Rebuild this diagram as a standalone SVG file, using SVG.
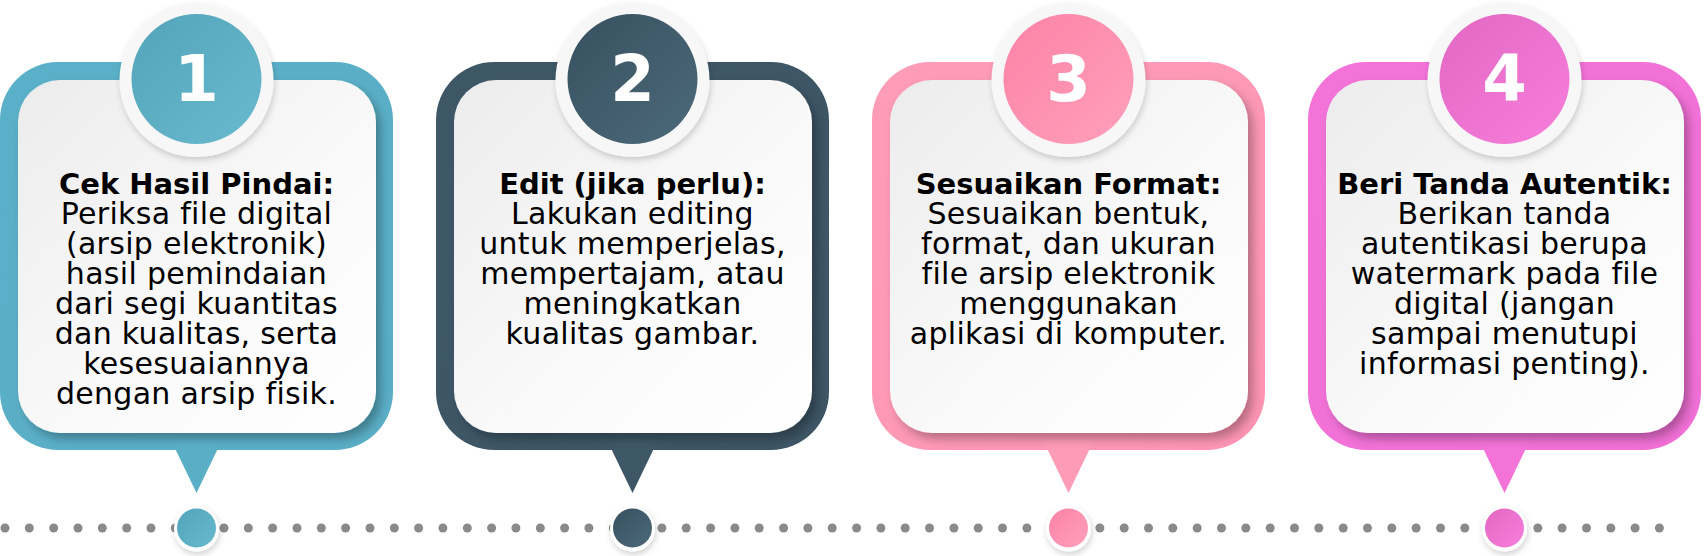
<svg xmlns="http://www.w3.org/2000/svg" width="1704" height="556" viewBox="0 0 1704 556">
<defs>
<style>
.frame{stroke:none}
.inner{fill:url(#gWhite);filter:url(#shInner)}
.ring{fill:#f7f7f7;filter:url(#shRing)}
.num{font-family:"DejaVu Sans","Liberation Sans",sans-serif;font-weight:bold;font-size:64px;fill:#ffffff;text-anchor:middle}
.txt{font-family:"DejaVu Sans","Liberation Sans",sans-serif;font-size:30px;fill:#000000;text-anchor:middle;letter-spacing:0.3px}
.title{font-weight:bold;font-size:29px;letter-spacing:0px}
.dot{fill:#8a8a8a}
.tring{fill:#ffffff;filter:url(#shRing)}
</style>
<linearGradient id="gWhite" x1="0" y1="0" x2="1" y2="1">
<stop offset="0" stop-color="#ececec"/>
<stop offset="0.6" stop-color="#fafafa"/>
<stop offset="1" stop-color="#ffffff"/>
</linearGradient>
<linearGradient id="f1" x1="0" y1="0" x2="1" y2="1"><stop offset="0" stop-color="#5ab0c8"/><stop offset="1" stop-color="#5aaec6"/></linearGradient>
<linearGradient id="f2" x1="0" y1="0" x2="1" y2="1"><stop offset="0" stop-color="#3e5767"/><stop offset="1" stop-color="#3d5565"/></linearGradient>
<linearGradient id="f3" x1="0" y1="0" x2="1" y2="1"><stop offset="0" stop-color="#fe9db8"/><stop offset="1" stop-color="#fd94b3"/></linearGradient>
<linearGradient id="f4" x1="0" y1="0" x2="1" y2="1"><stop offset="0" stop-color="#f373d9"/><stop offset="1" stop-color="#f170d6"/></linearGradient>
<linearGradient id="c1" x1="0" y1="0" x2="1" y2="1"><stop offset="0" stop-color="#53a3ba"/><stop offset="1" stop-color="#69bace"/></linearGradient>
<linearGradient id="c2" x1="0" y1="0" x2="1" y2="1"><stop offset="0" stop-color="#37505f"/><stop offset="1" stop-color="#4c6a7a"/></linearGradient>
<linearGradient id="c3" x1="0" y1="0" x2="1" y2="1"><stop offset="0" stop-color="#fc82a6"/><stop offset="1" stop-color="#ffa0bb"/></linearGradient>
<linearGradient id="c4" x1="0" y1="0" x2="1" y2="1"><stop offset="0" stop-color="#e167c2"/><stop offset="1" stop-color="#f77fdb"/></linearGradient>
<filter id="shInner" x="-10%" y="-10%" width="125%" height="125%">
<feDropShadow dx="5" dy="6" stdDeviation="5" flood-color="#000000" flood-opacity="0.28"/>
</filter>
<filter id="shRing" x="-20%" y="-20%" width="150%" height="150%">
<feDropShadow dx="1" dy="3" stdDeviation="3" flood-color="#000000" flood-opacity="0.18"/>
</filter>
</defs>
<rect width="1704" height="556" fill="#ffffff"/>

<g id="card1">
<rect class="frame" x="0" y="62" width="393" height="388" rx="58" fill="url(#f1)"/>
<polygon points="171,440 222,440 196.5,493" fill="#5aafc7"/>
<rect class="inner" x="18" y="80" width="358" height="353" rx="42"/>
<circle class="ring" cx="196.5" cy="80" r="77"/>
<circle cx="196.5" cy="79" r="65" fill="url(#c1)"/>
<text class="num" x="196.5" y="101">1</text>
<text class="txt" x="196.5" y="194"><tspan class="title" x="196.5" y="194">Cek Hasil Pindai:</tspan><tspan x="196.5" dy="30">Periksa file digital</tspan><tspan x="196.5" dy="30">(arsip elektronik)</tspan><tspan x="196.5" dy="30">hasil pemindaian</tspan><tspan x="196.5" dy="30">dari segi kuantitas</tspan><tspan x="196.5" dy="30">dan kualitas, serta</tspan><tspan x="196.5" dy="30">kesesuaiannya</tspan><tspan x="196.5" dy="30">dengan arsip fisik.</tspan></text>
</g>

<g id="card2" transform="translate(436,0)">
<rect class="frame" x="0" y="62" width="393" height="388" rx="58" fill="url(#f2)"/>
<polygon points="171,440 222,440 196.5,493" fill="#3e5767"/>
<rect class="inner" x="18" y="80" width="358" height="353" rx="42"/>
<circle class="ring" cx="196.5" cy="80" r="77"/>
<circle cx="196.5" cy="79" r="65" fill="url(#c2)"/>
<text class="num" x="196.5" y="101">2</text>
<text class="txt" x="196.5" y="194"><tspan class="title" x="196.5" y="194">Edit (jika perlu):</tspan><tspan x="196.5" dy="30">Lakukan editing</tspan><tspan x="196.5" dy="30">untuk memperjelas,</tspan><tspan x="196.5" dy="30">mempertajam, atau</tspan><tspan x="196.5" dy="30">meningkatkan</tspan><tspan x="196.5" dy="30">kualitas gambar.</tspan></text>
</g>

<g id="card3" transform="translate(872,0)">
<rect class="frame" x="0" y="62" width="393" height="388" rx="58" fill="url(#f3)"/>
<polygon points="171,440 222,440 196.5,493" fill="#fe9bb7"/>
<rect class="inner" x="18" y="80" width="358" height="353" rx="42"/>
<circle class="ring" cx="196.5" cy="80" r="77"/>
<circle cx="196.5" cy="79" r="65" fill="url(#c3)"/>
<text class="num" x="196.5" y="101">3</text>
<text class="txt" x="196.5" y="194"><tspan class="title" x="196.5" y="194">Sesuaikan Format:</tspan><tspan x="196.5" dy="30">Sesuaikan bentuk,</tspan><tspan x="196.5" dy="30">format, dan ukuran</tspan><tspan x="196.5" dy="30">file arsip elektronik</tspan><tspan x="196.5" dy="30">menggunakan</tspan><tspan x="196.5" dy="30">aplikasi di komputer.</tspan></text>
</g>

<g id="card4" transform="translate(1308,0)">
<rect class="frame" x="0" y="62" width="393" height="388" rx="58" fill="url(#f4)"/>
<polygon points="171,440 222,440 196.5,493" fill="#f373d9"/>
<rect class="inner" x="18" y="80" width="358" height="353" rx="42"/>
<circle class="ring" cx="196.5" cy="80" r="77"/>
<circle cx="196.5" cy="79" r="65" fill="url(#c4)"/>
<text class="num" x="196.5" y="101">4</text>
<text class="txt" x="196.5" y="194"><tspan class="title" x="196.5" y="194">Beri Tanda Autentik:</tspan><tspan x="196.5" dy="30">Berikan tanda</tspan><tspan x="196.5" dy="30">autentikasi berupa</tspan><tspan x="196.5" dy="30">watermark pada file</tspan><tspan x="196.5" dy="30">digital (jangan</tspan><tspan x="196.5" dy="30">sampai menutupi</tspan><tspan x="196.5" dy="30">informasi penting).</tspan></text>
</g>

<g id="connectors">
<circle class="dot" cx="5" cy="528" r="4.5"/><circle class="dot" cx="29.3" cy="528" r="4.5"/><circle class="dot" cx="53.7" cy="528" r="4.5"/><circle class="dot" cx="78" cy="528" r="4.5"/><circle class="dot" cx="102.3" cy="528" r="4.5"/><circle class="dot" cx="126.7" cy="528" r="4.5"/><circle class="dot" cx="151" cy="528" r="4.5"/><circle class="dot" cx="175.3" cy="528" r="4.5"/><circle class="dot" cx="199.6" cy="528" r="4.5"/><circle class="dot" cx="224" cy="528" r="4.5"/><circle class="dot" cx="248.3" cy="528" r="4.5"/><circle class="dot" cx="272.6" cy="528" r="4.5"/><circle class="dot" cx="297" cy="528" r="4.5"/><circle class="dot" cx="321.3" cy="528" r="4.5"/><circle class="dot" cx="345.6" cy="528" r="4.5"/><circle class="dot" cx="370" cy="528" r="4.5"/><circle class="dot" cx="394.3" cy="528" r="4.5"/><circle class="dot" cx="418.6" cy="528" r="4.5"/><circle class="dot" cx="442.9" cy="528" r="4.5"/><circle class="dot" cx="467.3" cy="528" r="4.5"/><circle class="dot" cx="491.6" cy="528" r="4.5"/><circle class="dot" cx="515.9" cy="528" r="4.5"/><circle class="dot" cx="540.3" cy="528" r="4.5"/><circle class="dot" cx="564.6" cy="528" r="4.5"/><circle class="dot" cx="588.9" cy="528" r="4.5"/><circle class="dot" cx="613.3" cy="528" r="4.5"/><circle class="dot" cx="637.6" cy="528" r="4.5"/><circle class="dot" cx="661.9" cy="528" r="4.5"/><circle class="dot" cx="686.2" cy="528" r="4.5"/><circle class="dot" cx="710.6" cy="528" r="4.5"/><circle class="dot" cx="734.9" cy="528" r="4.5"/><circle class="dot" cx="759.2" cy="528" r="4.5"/><circle class="dot" cx="783.6" cy="528" r="4.5"/><circle class="dot" cx="807.9" cy="528" r="4.5"/><circle class="dot" cx="832.2" cy="528" r="4.5"/><circle class="dot" cx="856.6" cy="528" r="4.5"/><circle class="dot" cx="880.9" cy="528" r="4.5"/><circle class="dot" cx="905.2" cy="528" r="4.5"/><circle class="dot" cx="929.5" cy="528" r="4.5"/><circle class="dot" cx="953.9" cy="528" r="4.5"/><circle class="dot" cx="978.2" cy="528" r="4.5"/><circle class="dot" cx="1002.5" cy="528" r="4.5"/><circle class="dot" cx="1026.9" cy="528" r="4.5"/><circle class="dot" cx="1051.2" cy="528" r="4.5"/><circle class="dot" cx="1075.5" cy="528" r="4.5"/><circle class="dot" cx="1099.9" cy="528" r="4.5"/><circle class="dot" cx="1124.2" cy="528" r="4.5"/><circle class="dot" cx="1148.5" cy="528" r="4.5"/><circle class="dot" cx="1172.8" cy="528" r="4.5"/><circle class="dot" cx="1197.2" cy="528" r="4.5"/><circle class="dot" cx="1221.5" cy="528" r="4.5"/><circle class="dot" cx="1245.8" cy="528" r="4.5"/><circle class="dot" cx="1270.2" cy="528" r="4.5"/><circle class="dot" cx="1294.5" cy="528" r="4.5"/><circle class="dot" cx="1318.8" cy="528" r="4.5"/><circle class="dot" cx="1343.2" cy="528" r="4.5"/><circle class="dot" cx="1367.5" cy="528" r="4.5"/><circle class="dot" cx="1391.8" cy="528" r="4.5"/><circle class="dot" cx="1416.1" cy="528" r="4.5"/><circle class="dot" cx="1440.5" cy="528" r="4.5"/><circle class="dot" cx="1464.8" cy="528" r="4.5"/><circle class="dot" cx="1489.1" cy="528" r="4.5"/><circle class="dot" cx="1513.5" cy="528" r="4.5"/><circle class="dot" cx="1537.8" cy="528" r="4.5"/><circle class="dot" cx="1562.1" cy="528" r="4.5"/><circle class="dot" cx="1586.5" cy="528" r="4.5"/><circle class="dot" cx="1610.8" cy="528" r="4.5"/><circle class="dot" cx="1635.1" cy="528" r="4.5"/><circle class="dot" cx="1659.4" cy="528" r="4.5"/>
<circle class="tring" cx="196.5" cy="529" r="22.5"/><circle cx="196.5" cy="528" r="19.5" fill="url(#c1)"/>
<circle class="tring" cx="632.5" cy="529" r="22.5"/><circle cx="632.5" cy="528" r="19.5" fill="url(#c2)"/>
<circle class="tring" cx="1068.5" cy="529" r="22.5"/><circle cx="1068.5" cy="528" r="19.5" fill="url(#c3)"/>
<circle class="tring" cx="1504.5" cy="529" r="22.5"/><circle cx="1504.5" cy="528" r="19.5" fill="url(#c4)"/>
</g>
</svg>
